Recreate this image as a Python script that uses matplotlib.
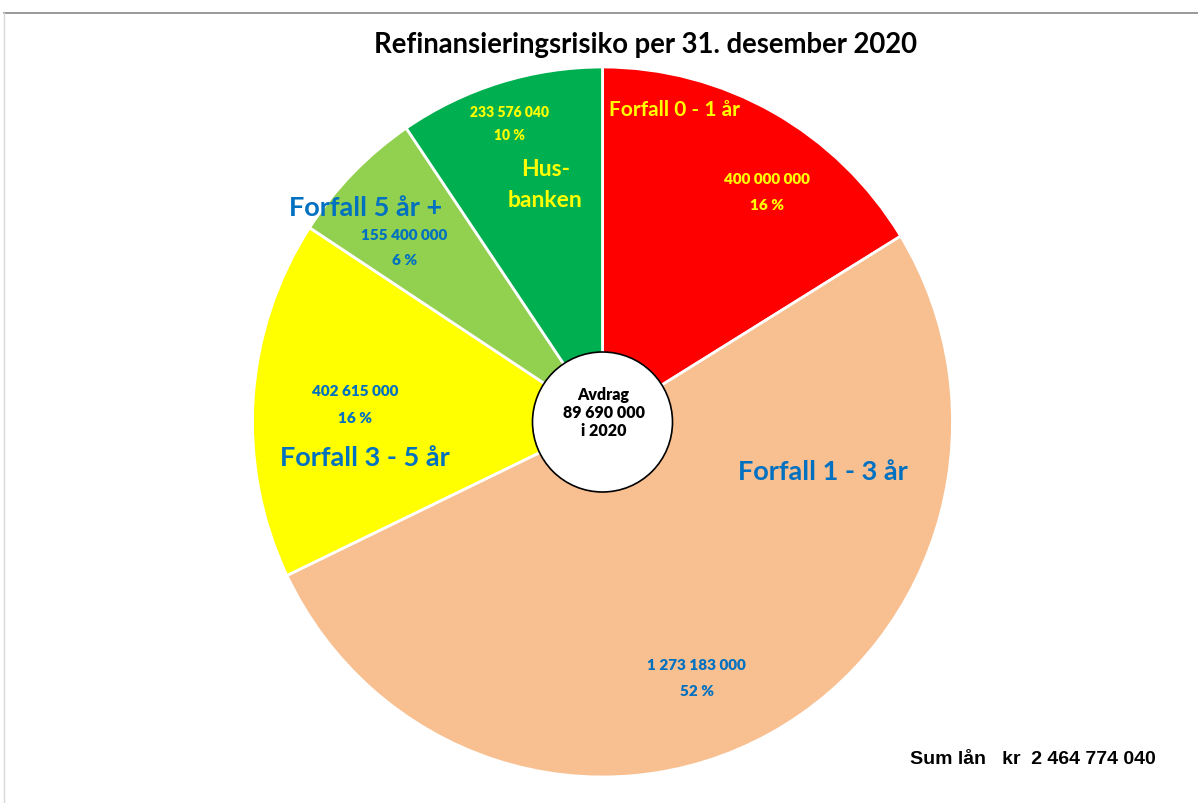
import matplotlib
matplotlib.use("Agg")
import matplotlib.pyplot as plt
from matplotlib.patches import Ellipse
from matplotlib.lines import Line2D

# ---- data ----
categories = ["Forfall 0 - 1 år", "Forfall 1 - 3 år", "Forfall 3 - 5 år", "Forfall 5 år +", "Husbanken"]
values = [400000000, 1273183000, 402615000, 155400000, 233576040]
percents = ["16 %", "52 %", "16 %", "6 %", "10 %"]
value_labels = ["400 000 000", "1 273 183 000", "402 615 000", "155 400 000", "233 576 040"]
colors = ["#FF0000", "#F8C091", "#FFFF00", "#92D050", "#00B050"]
title = "Refinansieringsrisiko per 31. desember 2020"
center_text = "Avdrag\n89 690 000\ni 2020"
sum_text = "Sum lån   kr  2 464 774 040"

FONT = "Lato"
BLUE = "#0070C0"
YEL = "#FFFF00"

W, H = 1198, 804
fig = plt.figure(figsize=(W / 100, H / 100), dpi=100)
fig.patch.set_facecolor("white")

cx, cy, rx, ry = 602.5, 423, 350, 355
ax = fig.add_axes([(cx - rx) / W, (H - cy - ry) / H, 2 * rx / W, 2 * ry / H])
ax.pie(values, colors=colors, startangle=90, counterclock=False, radius=1,
       wedgeprops=dict(edgecolor="white", linewidth=2))
ax.set_xlim(-1, 1)
ax.set_ylim(-1, 1)
ax.set_aspect("auto")
ax.axis("off")

# center circle
ax.add_patch(Ellipse((0, 0), 0.4, 0.4 * rx / ry, facecolor="white", edgecolor="black",
                     linewidth=1.2, zorder=5))
ax.text(0.003, 0.027, center_text, ha="center", va="center", fontsize=11.5, fontweight="heavy",
        family=FONT, linespacing=1.15, zorder=6)

def t(x, y, s, color, size, weight="bold"):
    ax.text(x, y, s, ha="center", va="center", color=color, fontsize=size,
            fontweight=weight, family=FONT, zorder=4)

big = 19.5
small = 11
H_ = "heavy"
# Forfall 0-1
t(0.206, 0.883, categories[0], YEL, 15)
t(0.469, 0.686, value_labels[0], YEL, small, H_)
t(0.469, 0.614, percents[0], YEL, small, H_)
# Forfall 1-3
t(0.631, -0.137, categories[1], BLUE, big)
t(0.269, -0.683, value_labels[1], BLUE, small, H_)
t(0.269, -0.757, percents[1], BLUE, small, H_)
# Forfall 3-5
t(-0.706, 0.089, value_labels[2], BLUE, small, H_)
t(-0.706, 0.014, percents[2], BLUE, small, H_)
t(-0.680, -0.100, categories[2], BLUE, big)
# Forfall 5 år +
t(-0.677, 0.606, categories[3], BLUE, big)
t(-0.566, 0.529, value_labels[3], BLUE, small, H_)
t(-0.566, 0.457, percents[3], BLUE, small, H_)
# Husbanken
t(-0.266, 0.874, value_labels[4], YEL, 10, H_)
t(-0.266, 0.811, percents[4], YEL, 10, H_)
t(-0.163, 0.714, "Hus-", YEL, 16.5)
t(-0.163, 0.626, "banken", YEL, 16.5)

# title and sum
fig.text(645 / W, 1 - 45 / H, title, ha="center", va="center", fontsize=19.8,
         fontweight="bold", family=FONT)
fig.text(1033 / W, 1 - 760 / H, sum_text, ha="center", va="center", fontsize=14,
         fontweight="bold", family="Liberation Sans")

# frame lines
fig.add_artist(Line2D([4 / W, 1], [1 - 14 / H, 1 - 14 / H], color="#888888", linewidth=1.2))
fig.add_artist(Line2D([4 / W, 4 / W], [0, 1 - 14 / H], color="#D9D9D9", linewidth=1.0))

fig.savefig("out.png", dpi=100, facecolor="white")
